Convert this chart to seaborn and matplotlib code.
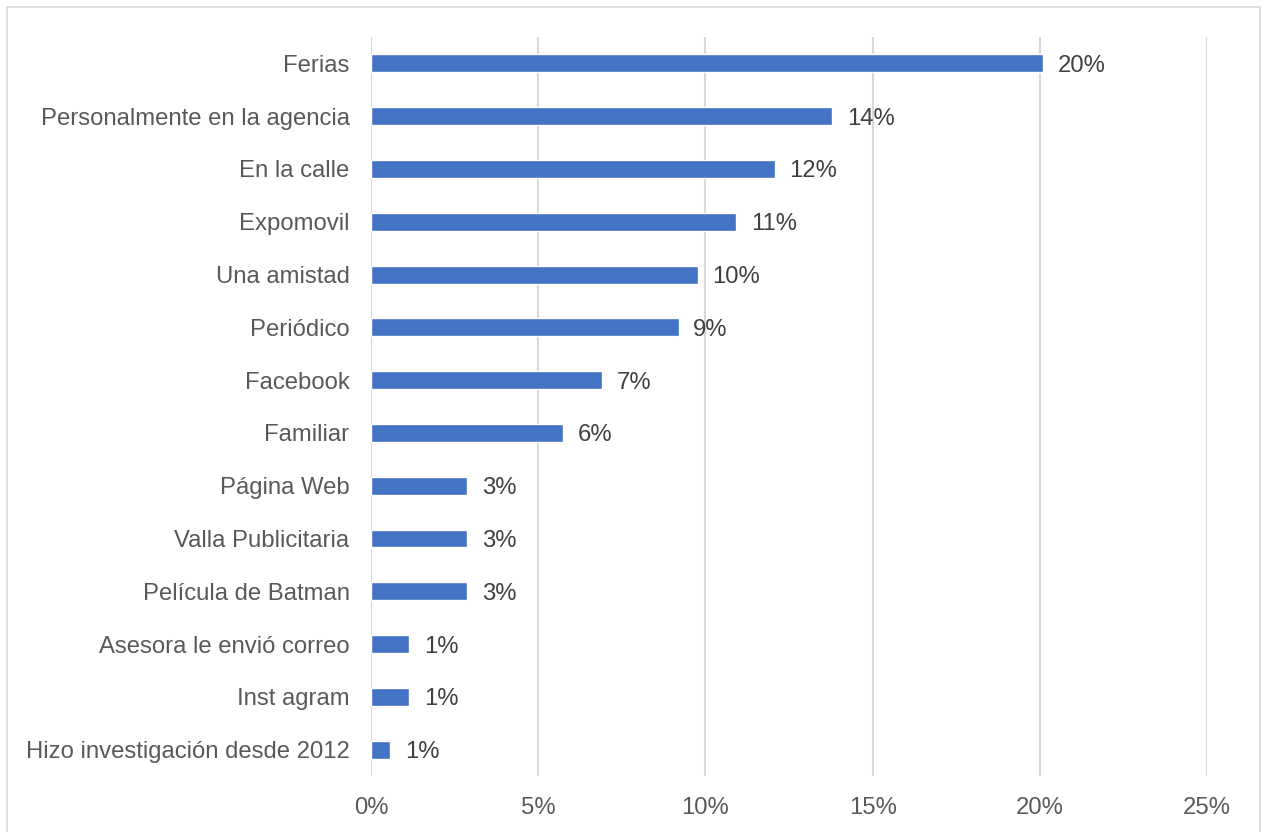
import matplotlib
matplotlib.use("Agg")
import matplotlib.pyplot as plt
import matplotlib.patches as mpatches
from matplotlib.ticker import FuncFormatter
import seaborn as sns
import pandas as pd

# Survey responses: how customers heard about the agency (n = 174)
categories = [
    "Ferias",
    "Personalmente en la agencia",
    "En la calle",
    "Expomovil",
    "Una amistad",
    "Periódico",
    "Facebook",
    "Familiar",
    "Página Web",
    "Valla Publicitaria",
    "Película de Batman",
    "Asesora le envió correo",
    "Inst agram",
    "Hizo investigación desde 2012",
]
shares = [
    0.2011, 0.1379, 0.1207, 0.1092, 0.0977, 0.0920, 0.0690,
    0.0575, 0.0287, 0.0287, 0.0287, 0.0115, 0.0115, 0.0057,
]
x_ticks = [0.0, 0.05, 0.10, 0.15, 0.20, 0.25]

df = pd.DataFrame({"source": categories, "share": shares})

sns.set_theme(style="white")
plt.rcParams["font.family"] = ["Liberation Sans", "DejaVu Sans"]

fig = plt.figure(figsize=(12.62, 8.32), dpi=100)
ax = fig.add_axes([0.294, 0.0673, 0.9564 - 0.294, 0.9555 - 0.0673])

sns.barplot(data=df, x="share", y="source", orient="h", color="#4472C4",
            saturation=1, width=0.34, ax=ax, order=categories)

ax.set_xlim(0, 0.25)
ax.set_ylim(len(categories) - 0.5, -0.5)
ax.set_xticks(x_ticks)
ax.xaxis.set_major_formatter(FuncFormatter(lambda v, _: f"{v * 100:.0f}%"))
ax.grid(axis="x", color="#D9D9D9", linewidth=1.5)
ax.grid(axis="y", visible=False)
ax.set_axisbelow(True)
for side in ["top", "right", "bottom", "left"]:
    ax.spines[side].set_visible(False)
ax.tick_params(axis="both", length=0, labelsize=17.2, labelcolor="#595959")
ax.tick_params(axis="x", pad=15)
ax.tick_params(axis="y", pad=15.5)
ax.set_xlabel("")
ax.set_ylabel("")

for container in ax.containers:
    texts = ax.bar_label(container,
                         labels=[f"{v * 100:.0f}%" for v in container.datavalues],
                         padding=10.5, fontsize=17.2, color="#404040")
    for t in texts:
        t.set_verticalalignment("center_baseline")

# light frame around the chart area
fig.patches.append(mpatches.Rectangle((7 / 1262, -0.01), (1260 - 7) / 1262, 1.01 - 7 / 832,
                                      transform=fig.transFigure, fill=False,
                                      edgecolor="#D9D9D9", linewidth=1.2))

fig.savefig("out.png", dpi=100, facecolor="white")
